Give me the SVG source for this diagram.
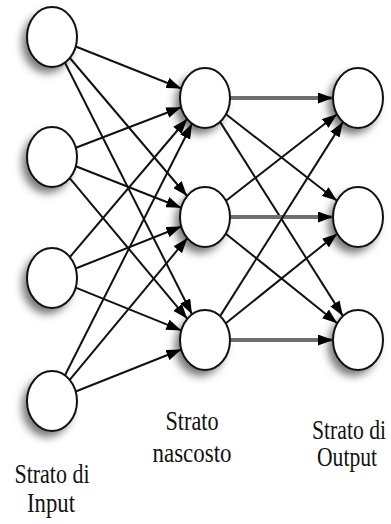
<svg xmlns="http://www.w3.org/2000/svg" width="391" height="524" viewBox="0 0 391 524">
<style>
.node{fill:#fff;stroke:#111;stroke-width:2}
.sh{fill:#777;filter:url(#blur)}
.e{stroke:#111;stroke-width:2;fill:none;marker-end:url(#arr)}
.h{stroke:#6e6e6e;stroke-width:4;fill:none;marker-end:url(#arr)}
.t{font-family:"Liberation Serif","Times New Roman",serif;font-size:27px;fill:#111;text-anchor:middle}
</style>
<defs>
<filter id="blur" x="-50%" y="-50%" width="200%" height="200%"><feGaussianBlur stdDeviation="4"/></filter>
<marker id="arr" markerUnits="userSpaceOnUse" markerWidth="15" markerHeight="11" refX="15" refY="5.5" orient="auto"><path d="M0,0 L15,5.5 L0,11 z" fill="#000"/></marker>
</defs>
<rect width="391" height="524" fill="#fff"/>
<g id="shadows">
<ellipse class="sh" cx="47" cy="43" rx="25" ry="30"/>
<ellipse class="sh" cx="47" cy="163" rx="25" ry="30"/>
<ellipse class="sh" cx="47" cy="284" rx="25" ry="30"/>
<ellipse class="sh" cx="47" cy="407" rx="25" ry="30"/>
<ellipse class="sh" cx="200" cy="104" rx="25" ry="30"/>
<ellipse class="sh" cx="200" cy="223" rx="25" ry="30"/>
<ellipse class="sh" cx="200" cy="346" rx="25" ry="30"/>
<ellipse class="sh" cx="353" cy="104" rx="25" ry="30"/>
<ellipse class="sh" cx="353" cy="223" rx="25" ry="30"/>
<ellipse class="sh" cx="353" cy="346" rx="25" ry="30"/>
</g>
<g id="connectors">
<line class="e" x1="75.7" y1="46.5" x2="181.3" y2="88.5"/>
<line class="e" x1="69.9" y1="58.0" x2="187.1" y2="196.0"/>
<line class="e" x1="65.0" y1="62.7" x2="192.0" y2="314.3"/>
<line class="e" x1="75.8" y1="147.8" x2="181.2" y2="107.2"/>
<line class="e" x1="75.8" y1="166.3" x2="181.2" y2="207.7"/>
<line class="e" x1="69.7" y1="178.2" x2="187.3" y2="318.8"/>
<line class="e" x1="69.9" y1="257.0" x2="187.1" y2="119.0"/>
<line class="e" x1="75.7" y1="268.5" x2="181.3" y2="226.5"/>
<line class="e" x1="75.7" y1="287.6" x2="181.3" y2="330.4"/>
<line class="e" x1="65.0" y1="375.3" x2="192.0" y2="123.7"/>
<line class="e" x1="69.7" y1="379.8" x2="187.3" y2="238.2"/>
<line class="e" x1="75.7" y1="391.5" x2="181.3" y2="349.5"/>
<line class="h" x1="230" y1="98" x2="333" y2="98"/>
<line class="e" x1="226.0" y1="114.3" x2="337.0" y2="200.7"/>
<line class="e" x1="220.1" y1="121.9" x2="342.9" y2="316.1"/>
<line class="e" x1="226.0" y1="200.7" x2="337.0" y2="114.3"/>
<line class="h" x1="230" y1="217" x2="333" y2="217"/>
<line class="e" x1="225.8" y1="233.7" x2="337.2" y2="323.3"/>
<line class="e" x1="220.1" y1="316.1" x2="342.9" y2="121.9"/>
<line class="e" x1="225.8" y1="323.3" x2="337.2" y2="233.7"/>
<line class="h" x1="230" y1="340" x2="333" y2="340"/>
</g>
<g id="input1"><ellipse class="node" cx="52" cy="37" rx="25" ry="30"/></g>
<g id="input2"><ellipse class="node" cx="52" cy="157" rx="25" ry="30"/></g>
<g id="input3"><ellipse class="node" cx="52" cy="278" rx="25" ry="30"/></g>
<g id="input4"><ellipse class="node" cx="52" cy="401" rx="25" ry="30"/></g>
<g id="hidden1"><ellipse class="node" cx="205" cy="98" rx="25" ry="30"/></g>
<g id="hidden2"><ellipse class="node" cx="205" cy="217" rx="25" ry="30"/></g>
<g id="hidden3"><ellipse class="node" cx="205" cy="340" rx="25" ry="30"/></g>
<g id="output1"><ellipse class="node" cx="358" cy="98" rx="25" ry="30"/></g>
<g id="output2"><ellipse class="node" cx="358" cy="217" rx="25" ry="30"/></g>
<g id="output3"><ellipse class="node" cx="358" cy="340" rx="25" ry="30"/></g>
<g id="labels">
<text class="t" x="52" y="483" textLength="75" lengthAdjust="spacingAndGlyphs">Strato di</text>
<text class="t" x="51" y="512" textLength="48" lengthAdjust="spacingAndGlyphs">Input</text>
<text class="t" x="192" y="430" textLength="53" lengthAdjust="spacingAndGlyphs">Strato</text>
<text class="t" x="192" y="462" textLength="79" lengthAdjust="spacingAndGlyphs">nascosto</text>
<text class="t" x="349" y="439" textLength="74" lengthAdjust="spacingAndGlyphs">Strato di</text>
<text class="t" x="347" y="466" textLength="60" lengthAdjust="spacingAndGlyphs">Output</text>
</g>
</svg>
